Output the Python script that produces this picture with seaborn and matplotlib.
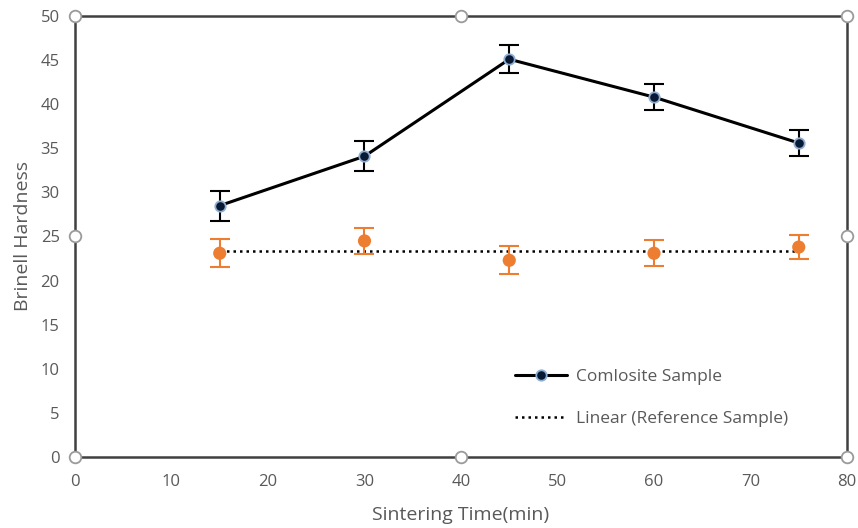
import numpy as np
import pandas as pd
import matplotlib
matplotlib.use('Agg')
import matplotlib.pyplot as plt
import seaborn as sns

# dữ liệu
time_min = [15, 30, 45, 60, 75]
composite = [28.5, 34.1, 45.1, 40.8, 35.6]
composite_err = [1.7, 1.7, 1.6, 1.5, 1.5]
reference = [23.1, 24.5, 22.3, 23.1, 23.8]
reference_err = [1.6, 1.5, 1.6, 1.5, 1.4]

sns.set_style('white')
plt.rcParams['font.family'] = ['Open Sans', 'DejaVu Sans']

fig = plt.figure(figsize=(8.58, 5.28), dpi=100)
ax = fig.add_axes([0.0874, 0.1345, 0.8998, 0.8352])

df = pd.DataFrame({'t': time_min, 'comp': composite, 'ref': reference})

# đường xu hướng tuyến tính cho mẫu tham chiếu
coef = np.polyfit(time_min, reference, 1)
trend = np.polyval(coef, time_min)
sns.lineplot(x=time_min, y=trend, ax=ax, color='black', linestyle=(0, (1, 1.6)),
             linewidth=1.8, label='Linear (Reference Sample)', zorder=2)

# mẫu tham chiếu (cam)
ax.errorbar(time_min, reference, yerr=reference_err, fmt='none', ecolor='#ED7D31',
            elinewidth=1.5, capsize=7, capthick=1.5, zorder=3)
sns.scatterplot(data=df, x='t', y='ref', ax=ax, color='#ED7D31', s=90,
                edgecolor='none', zorder=4, legend=False)

# mẫu composite (đen)
ax.errorbar(time_min, composite, yerr=composite_err, fmt='none', ecolor='black',
            elinewidth=1.5, capsize=7, capthick=1.5, zorder=5)
sns.lineplot(data=df, x='t', y='comp', ax=ax, color='black', linewidth=2.2,
             marker='o', markersize=7.5, markerfacecolor='#0b1a33',
             markeredgecolor='#8eaed3', markeredgewidth=1.3,
             label='Comlosite Sample', zorder=6)

ax.set_xlim(0, 80)
ax.set_ylim(0, 50)
ax.set_xticks(range(0, 81, 10))
ax.set_yticks(range(0, 51, 5))
ax.tick_params(axis='both', length=0, labelsize=12, labelcolor='#595959')
ax.tick_params(axis='x', pad=12)
ax.tick_params(axis='y', pad=11)
ax.set_xlabel('Sintering Time(min)', fontsize=14, color='#595959', labelpad=12)
ax.set_ylabel('Brinell Hardness', fontsize=14, color='#595959', labelpad=6)
for s in ax.spines.values():
    s.set_color('#404040')
    s.set_linewidth(1.8)

# các nút chọn kiểu Excel quanh khung
hx = [0, 0.5, 1, 0, 1, 0, 0.5, 1]
hy = [0, 0, 0, 0.5, 0.5, 1, 1, 1]
ax.scatter(hx, hy, transform=ax.transAxes, s=70, facecolor='white',
           edgecolor='#9a9a9a', linewidth=1.3, zorder=10, clip_on=False)

h, l = ax.get_legend_handles_labels()
order = [l.index('Comlosite Sample'), l.index('Linear (Reference Sample)')]
ax.legend([h[i] for i in order], [l[i] for i in order], frameon=False,
          loc='lower left', bbox_to_anchor=(0.55, 0.033), fontsize=12.5,
          labelcolor='#595959', handlelength=3.0, handletextpad=0.5,
          labelspacing=1.45)

fig.savefig('out.png', dpi=100)
